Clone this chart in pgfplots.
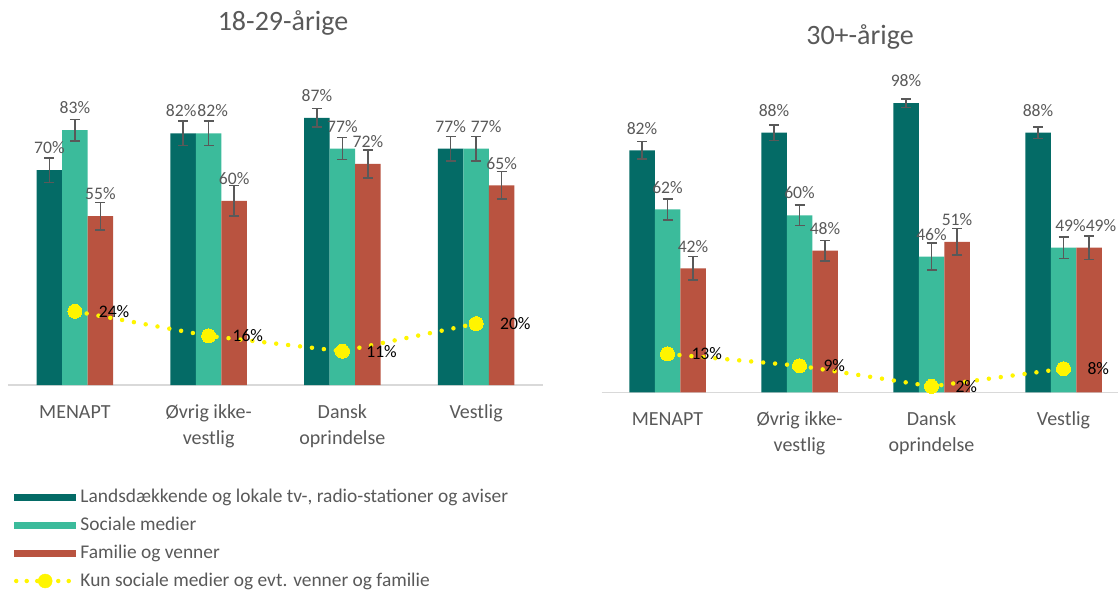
\documentclass[border=0pt]{standalone}
\usepackage{pgfplots}
\usepackage{pgfplotstable}
\pgfplotsset{compat=1.18}
\usepackage{fontspec}
\setmainfont{Carlito}

\definecolor{cDark}{RGB}{4,107,102}
\definecolor{cTeal}{RGB}{59,187,155}
\definecolor{cRed}{RGB}{185,83,64}
\definecolor{cYel}{RGB}{255,245,0}
\definecolor{txtgray}{RGB}{89,89,89}
\definecolor{errgray}{RGB}{89,89,89}
\definecolor{axgray}{RGB}{217,217,217}

% a = Landsdaekkende..., b = Sociale medier, c = Familie og venner
% *e = error bar half length, *dx = label nudge (pt)
\pgfplotstableread{
x a  ae  adx b  be  bdx c  ce  cdx
0 70 4   0   83 3.5 0   55 4.5 0
1 82 4   -2  82 4   4   60 5   0
2 87 3   0   77 3.6 0   72 4.5 0
3 77 4   0   77 4   10  65 4.5 0
}\young
\pgfplotstableread{
x a  ae  adx b  be  bdx c  ce  cdx
0 82 3   0   62 3.6 0   42 4   0
1 88 2.6 0   60 3.5 0   48 3.5 0
2 98 1.5 0   46 4.6 0   51 4.5 0
3 88 2   0   49 3.6 7   49 4   12
}\older
% Kun sociale medier og evt. venner og familie
\pgfplotstableread{
x young older
0 24 13
1 16 9
2 11 2
3 20 8
}\share

\pgfplotsset{
  panel/.style={
    scale only axis, clip=false,
    axis y line=none, axis x line*=bottom,
    x axis line style={draw=axgray, line width=1.5pt, -},
    ymin=0, ymax=100,
    ybar=0pt, bar width=25.5pt,
    xtick={0,1,2,3}, major tick length=0pt,
    xticklabels={{MENAPT\\\mbox{}}, {Øvrig ikke-\\vestlig}, {Dansk\\oprindelse}, {Vestlig\\\mbox{}}},
    xticklabel style={align=center, anchor=base, yshift=-59pt, inner sep=0pt,
      font=\fontsize{20}{26}\selectfont, text=txtgray},
    /pgf/number format/assume math mode=true,
  },
  overlay/.style={
    scale only axis, clip=false, hide axis,
    ymin=0, ymax=100,
    /pgf/number format/assume math mode=true,
  },
  bars/.style={
    draw=none, fill=#1,
    error bars/.cd, y dir=both, y explicit, error mark=|,
      error bar style={draw=errgray, line width=1.6pt},
      error mark options={draw=errgray, line width=1.6pt, mark size=5pt},
    /pgfplots/.cd,
    nodes near coords={\pgfmathprintnumber{\pgfplotspointmeta}\%},
    every node near coord/.append style={anchor=south, inner sep=0pt, yshift=16pt,
      xshift=\dx pt, font=\fontsize{17.6}{20}\selectfont, text=txtgray},
  },
  share/.style={
    sharp plot, cYel, line width=4.5pt, line cap=round,
    dash pattern=on 0pt off 12pt,
    mark=*, mark size=7pt, mark options={solid, fill=cYel, draw=cYel, line width=0pt},
    nodes near coords={\pgfmathprintnumber{\pgfplotspointmeta}\%},
    every node near coord/.append style={anchor=west, inner sep=0pt, xshift=24pt,
      font=\fontsize{17.6}{20}\selectfont, text=black},
  },
}

\begin{document}
\begin{tikzpicture}
\path[use as bounding box] (0pt,0pt) rectangle (1118pt,592pt);

% 18-29-aarige: bars
\begin{axis}[panel, at={(8pt,207pt)}, anchor=south west,
    width=535pt, height=307pt, xmin=-0.5, xmax=3.5,
    title={18-29-årige},
    title style={at={(0.514,1.1336)}, anchor=base, inner sep=0pt,
      font=\fontsize{28}{30}\selectfont, text=txtgray},
    legend style={at={(0.0112,-0.3355)}, anchor=north west, draw=none, fill=none,
      inner sep=0pt, outer sep=0pt, row sep=10pt,
      font=\fontsize{19.4}{21}\selectfont, text=txtgray,
      nodes={inner sep=0pt, text height=14pt, text depth=4pt}},
    legend cell align=left,
    /tikz/every even column/.append style={column sep=10pt},
  ]
  \addplot[bars=cDark, visualization depends on={\thisrow{adx} \as \dx},
    legend image code/.code={\fill[cDark] (0pt,-3.5pt) rectangle (62pt,3.5pt);}]
    table[x=x, y=a, y error=ae] {\young};
  \addlegendentry{Landsdækkende og lokale tv-, radio-stationer og aviser}
  \addplot[bars=cTeal, visualization depends on={\thisrow{bdx} \as \dx},
    legend image code/.code={\fill[cTeal] (0pt,-3.5pt) rectangle (62pt,3.5pt);}]
    table[x=x, y=b, y error=be] {\young};
  \addlegendentry{Sociale medier}
  \addplot[bars=cRed, visualization depends on={\thisrow{cdx} \as \dx},
    legend image code/.code={\fill[cRed] (0pt,-3.5pt) rectangle (62pt,3.5pt);}]
    table[x=x, y=c, y error=ce] {\young};
  \addlegendentry{Familie og venner}
  \addlegendimage{legend image code/.code={
      \draw[cYel, line width=4.5pt, line cap=round, dash pattern=on 0pt off 10.5pt] (2pt,0pt) -- (64pt,0pt);
      \fill[cYel] (31pt,0pt) circle (7pt);}}
  \addlegendentry{Kun sociale medier og evt. venner og familie}
\end{axis}
% 18-29-aarige: line
\begin{axis}[overlay, at={(8pt,207pt)}, anchor=south west,
    width=535pt, height=307pt, xmin=-0.5, xmax=3.5]
  \addplot[share] table[x=x, y=young] {\share};
\end{axis}

% 30+-aarige: bars
\begin{axis}[panel, at={(601.5pt,199.7pt)}, anchor=south west,
    width=516.5pt, height=295pt, xmin=-0.5, xmax=3.413,
    title={30+-årige},
    title style={at={(0.5005,1.157)}, anchor=base, inner sep=0pt,
      font=\fontsize{28}{30}\selectfont, text=txtgray},
  ]
  \addplot[bars=cDark, visualization depends on={\thisrow{adx} \as \dx}]
    table[x=x, y=a, y error=ae] {\older};
  \addplot[bars=cTeal, visualization depends on={\thisrow{bdx} \as \dx}]
    table[x=x, y=b, y error=be] {\older};
  \addplot[bars=cRed, visualization depends on={\thisrow{cdx} \as \dx}]
    table[x=x, y=c, y error=ce] {\older};
\end{axis}
% 30+-aarige: line
\begin{axis}[overlay, at={(601.5pt,199.7pt)}, anchor=south west,
    width=516.5pt, height=295pt, xmin=-0.5, xmax=3.413]
  \addplot[share] table[x=x, y=older] {\share};
\end{axis}
\end{tikzpicture}
\end{document}
